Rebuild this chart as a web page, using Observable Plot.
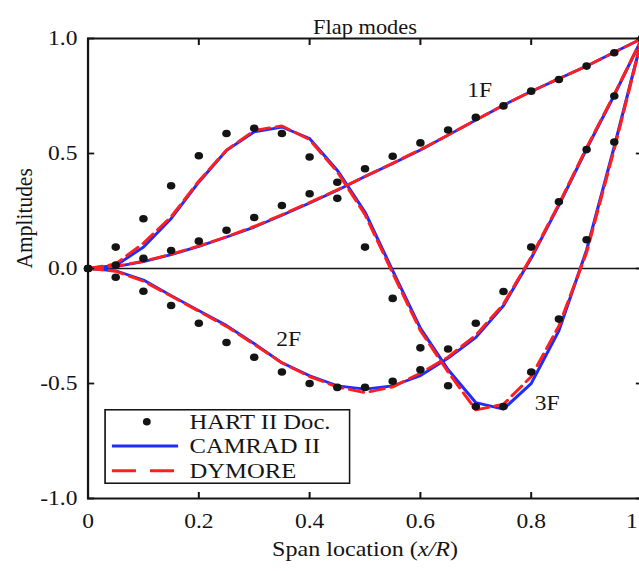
<!DOCTYPE html>
<html><head><meta charset="utf-8">
<script src="https://cdn.jsdelivr.net/npm/d3@7"></script>
<script src="https://cdn.jsdelivr.net/npm/@observablehq/plot@0.6"></script>
<style>
html,body{margin:0;padding:0;background:#fff;overflow:hidden;}
#wrap{position:relative;width:574px;height:571px;transform:scaleX(1.12);transform-origin:0 0;}
</style></head><body><div id="wrap"></div>
<script>
// ---- data ----
const span = [0,0.05,0.1,0.15,0.2,0.25,0.3,0.35,0.4,0.45,0.5,0.55,0.6,0.65,0.7,0.75,0.8,0.85,0.9,0.95,1];
const modes = ["1F","2F","3F"];
const hart1F = [0,0.015,0.044,0.078,0.119,0.166,0.222,0.274,0.325,0.375,0.434,0.488,0.546,0.602,0.657,0.707,0.771,0.822,0.88,0.938,1.0];
const hart2F = [0,-0.038,-0.099,-0.161,-0.238,-0.322,-0.386,-0.45,-0.50,-0.517,-0.517,-0.49,-0.44,-0.35,-0.238,-0.10,0.093,0.29,0.517,0.75,1.0];
const hart3F = [0,0.093,0.216,0.36,0.49,0.587,0.61,0.587,0.485,0.305,0.093,-0.13,-0.345,-0.51,-0.60,-0.60,-0.45,-0.22,0.125,0.55,1.0];
const camrad1F = [0,0.008,0.03,0.06,0.096,0.137,0.18,0.232,0.285,0.34,0.40,0.457,0.515,0.58,0.645,0.71,0.77,0.825,0.88,0.94,1.0];
const camrad2F = [0,-0.01,-0.05,-0.118,-0.183,-0.248,-0.327,-0.41,-0.466,-0.51,-0.524,-0.51,-0.466,-0.39,-0.30,-0.161,0.045,0.275,0.52,0.754,1.0];
const camrad3F = [0,0.013,0.093,0.217,0.376,0.514,0.594,0.615,0.565,0.427,0.245,-0.01,-0.26,-0.44,-0.583,-0.611,-0.50,-0.27,0.08,0.53,1.0];
const dymore1F = [0,0.009,0.032,0.062,0.098,0.138,0.183,0.234,0.287,0.342,0.40,0.458,0.517,0.58,0.646,0.71,0.77,0.826,0.88,0.94,1.0];
const dymore2F = [0,-0.012,-0.055,-0.12,-0.186,-0.252,-0.33,-0.41,-0.47,-0.515,-0.54,-0.515,-0.455,-0.385,-0.29,-0.155,0.05,0.28,0.525,0.757,1.0];
const dymore3F = [0,0.02,0.11,0.225,0.38,0.515,0.60,0.62,0.56,0.42,0.235,-0.02,-0.27,-0.45,-0.615,-0.59,-0.47,-0.25,0.07,0.52,1.0];
const xTicks = [0,0.2,0.4,0.6,0.8,1];
const xTickLabels = ["0","0.2","0.4","0.6","0.8","1"];
const yTicks = [-1,-0.5,0,0.5,1];
const yTickLabels = ["-1.0","-0.5","0.0","0.5","1.0"];
const modeLabelX = [0.707,0.362,0.829];
const modeLabelY = [0.776,-0.309,-0.584];
const legendNames = ["HART II Doc.","CAMRAD II","DYMORE"];
const title = "Flap modes";
const yLabel = "Amplitudes";
const xLabelParts = ["Span location (","x/R",")"];

// ---- build ----
const BLUE = "#1f2cff", RED = "#ff1f1f", INK = "#141414";
const FONT = "'Liberation Serif','Times New Roman',serif";
function rows(arrs){ return modes.flatMap((m,i)=>span.map((x,j)=>({mode:m,x,y:arrs[i][j]}))); }
const hart = rows([hart1F,hart2F,hart3F]);
const camrad = rows([camrad1F,camrad2F,camrad3F]);
const dymore = rows([dymore1F,dymore2F,dymore3F]);
const modeLabels = modes.map((m,i)=>({m,x:modeLabelX[i],y:modeLabelY[i]}));
const xLabel = xLabelParts.join("");
const xLast = xTicks[xTicks.length-1];
const fmtX = d=>xTickLabels[xTicks.indexOf(d)];

const svg = Plot.plot({
  width: 574, height: 571,
  marginLeft: 78.1, marginRight: 1.3, marginTop: 38, marginBottom: 73,
  style: {fontFamily: FONT, fontSize: "21px", color: INK, background: "white", overflow: "visible"},
  x: {domain: [0,1]},
  y: {domain: [-1,1]},
  marks: [
    Plot.ruleY([0], {stroke: INK, strokeWidth: 1.7}),
    Plot.line(camrad, {x:"x", y:"y", z:"mode", stroke: BLUE, strokeWidth: 2.8}),
    Plot.line(dymore, {x:"x", y:"y", z:"mode", stroke: RED, strokeWidth: 2.8, strokeDasharray: "13,6"}),
    Plot.dot(hart, {x:"x", y:"y", r: 3.8, fill: INK, stroke: "none"}),
    Plot.text(modeLabels, {x:"x", y:"y", text:"m", fontSize: 21, fill: INK}),
    Plot.frame({stroke: INK, strokeWidth: 2}),
    Plot.axisX(xTicks, {anchor:"bottom", tickSize:6, dy:-6, strokeWidth:1.8, tickFormat:()=>"", label:null}),
    Plot.axisX(xTicks, {anchor:"top", tickSize:6, dy:6, strokeWidth:1.8, tickFormat:()=>"", label:null}),
    Plot.axisY(yTicks, {anchor:"left", tickSize:6, dx:6, strokeWidth:1.8, tickFormat:()=>"", label:null}),
    Plot.axisY(yTicks, {anchor:"right", tickSize:6, dx:-6, strokeWidth:1.8, tickFormat:()=>"", label:null}),
    Plot.axisX(xTicks.filter(d=>d!==xLast), {anchor:"bottom", tickSize:0, tickPadding:15, fontSize:21, tickFormat:fmtX, label:null}),
    Plot.axisX([xLast], {anchor:"bottom", tickSize:0, tickPadding:15, dx:-9, fontSize:21, tickFormat:fmtX, label:null}),
    Plot.axisY(yTicks, {anchor:"left", tickSize:0, tickPadding:9.5, fontSize:21, tickFormat:d=>yTickLabels[yTicks.indexOf(d)], label:null}),
    Plot.text([title], {text:d=>d, frameAnchor:"top", dy:-18.5, fontSize:20, fill: INK}),
    Plot.text([yLabel], {text:d=>d, frameAnchor:"left", rotate:-90, dx:-57, fontSize:21.5, fill: INK}),
    Plot.text([xLabel], {text:d=>d, frameAnchor:"bottom", dy:57, fontSize:21.5, fill: INK})
  ]
});
document.getElementById("wrap").appendChild(svg);

d3.select(svg).selectAll("text").filter(function(){return this.textContent===xLabel;}).each(function(){
  const t = d3.select(this); t.text(null);
  xLabelParts.forEach((p,i)=>t.append("tspan").attr("font-style", i===1?"italic":null).text(p));
});

// legend (inside plot area, lower left)
const leg = d3.select("#wrap").append("svg")
  .attr("width",220).attr("height",75)
  .style("position","absolute").style("left","92.9px").style("top","409px")
  .style("font-family",FONT);
leg.append("rect").attr("x",0.75).attr("y",0.75).attr("width",218.5).attr("height",73.5)
  .attr("fill","white").attr("stroke",INK).attr("stroke-width",1.6);
const rowY = [12.7,37,61.7];
leg.append("ellipse").attr("cx",38.1).attr("cy",rowY[0]).attr("rx",3.5).attr("ry",3.8).attr("fill",INK);
leg.append("line").attr("x1",6.9).attr("x2",66).attr("y1",rowY[1]).attr("y2",rowY[1]).attr("stroke",BLUE).attr("stroke-width",3);
leg.append("line").attr("x1",6.9).attr("x2",66).attr("y1",rowY[2]).attr("y2",rowY[2]).attr("stroke",RED).attr("stroke-width",3).attr("stroke-dasharray","21.5,12.5");
legendNames.forEach((n,i)=>leg.append("text").attr("x",76.2).attr("y",rowY[i]+7.4).attr("font-size",22).attr("fill",INK).text(n));
</script></body></html>
